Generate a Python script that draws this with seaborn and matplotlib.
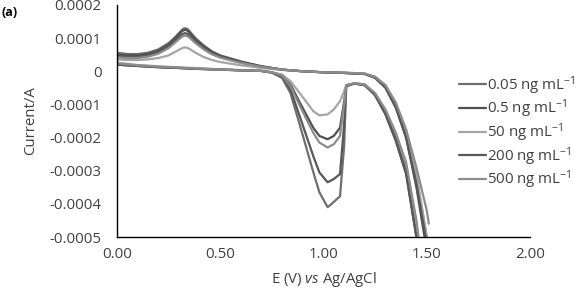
import matplotlib
matplotlib.use("Agg")
import matplotlib.pyplot as plt
import seaborn as sns
import pandas as pd
from matplotlib.ticker import FixedLocator, FixedFormatter

# ---------------- data (currents in units of 1e-4 A) ----------------
series_labels = ["0.05 ng mL$^{-1}$", "0.5 ng mL$^{-1}$", "50 ng mL$^{-1}$",
                 "200 ng mL$^{-1}$", "500 ng mL$^{-1}$"]
series_colors = ["#6e6e6e", "#505050", "#a5a5a5", "#575757", "#8c8c8c"]

# upper (anodic-peak) branch, scanned from high E down to 0
E_upper = [1.51, 1.50, 1.45, 1.40, 1.35, 1.30, 1.25, 1.20, 1.10, 1.00, 0.90, 0.80,
           0.70, 0.60, 0.50, 0.46, 0.42, 0.38, 0.35, 0.34, 0.33, 0.32, 0.31, 0.28,
           0.25, 0.20, 0.15, 0.10, 0.05, 0.00]
I_upper_005 = [-5.6, -5.0, -3.2, -1.9, -1.0, -0.45, -0.18, -0.08, -0.05, -0.03, 0.0, 0.05,
               0.15, 0.30, 0.48, 0.60, 0.78, 1.00, 1.22, 1.28, 1.30, 1.28, 1.22, 1.02,
               0.85, 0.66, 0.56, 0.52, 0.52, 0.56]
I_upper_05 = [-6.3, -5.4, -3.5, -2.0, -1.1, -0.50, -0.20, -0.08, -0.05, -0.03, 0.0, 0.05,
              0.15, 0.28, 0.46, 0.58, 0.75, 0.96, 1.17, 1.23, 1.25, 1.23, 1.18, 0.98,
              0.80, 0.62, 0.52, 0.48, 0.48, 0.50]
I_upper_50 = [-5.5, -5.0, -3.1, -1.8, -0.95, -0.42, -0.16, -0.07, -0.04, -0.03, 0.0, 0.04,
              0.10, 0.18, 0.28, 0.34, 0.43, 0.56, 0.68, 0.71, 0.72, 0.71, 0.68, 0.58,
              0.48, 0.40, 0.36, 0.34, 0.34, 0.36]
I_upper_200 = [-6.2, -5.2, -3.4, -2.0, -1.05, -0.48, -0.19, -0.08, -0.05, -0.03, 0.0, 0.05,
               0.14, 0.27, 0.44, 0.55, 0.70, 0.90, 1.08, 1.13, 1.15, 1.13, 1.09, 0.92,
               0.75, 0.57, 0.48, 0.44, 0.44, 0.46]
I_upper_500 = [-4.6, -4.2, -2.9, -1.75, -0.95, -0.42, -0.17, -0.07, -0.04, -0.03, 0.0, 0.05,
               0.13, 0.25, 0.41, 0.51, 0.66, 0.85, 1.02, 1.06, 1.08, 1.06, 1.02, 0.86,
               0.70, 0.53, 0.44, 0.40, 0.40, 0.42]

# lower branch, scanned from 0 upwards
E_lower = [0.00, 0.10, 0.20, 0.30, 0.40, 0.50, 0.60, 0.70]
I_lower_005 = [0.22, 0.17, 0.13, 0.10, 0.08, 0.05, 0.03, 0.01]
I_lower_05 = [0.20, 0.16, 0.13, 0.10, 0.07, 0.05, 0.03, 0.01]
I_lower_50 = [0.26, 0.19, 0.15, 0.12, 0.09, 0.06, 0.04, 0.02]
I_lower_200 = [0.20, 0.16, 0.12, 0.10, 0.07, 0.05, 0.03, 0.01]
I_lower_500 = [0.24, 0.18, 0.14, 0.11, 0.08, 0.05, 0.03, 0.01]

# cathodic peak region
E_dip = [0.75, 0.80, 0.84, 0.89, 0.95, 0.98, 1.02, 1.05, 1.08, 1.10, 1.11]
I_dip_005 = [-0.04, -0.20, -0.66, -1.72, -3.03, -3.65, -4.10, -3.94, -3.77, -2.25, -0.45]
I_dip_05 = [-0.03, -0.12, -0.40, -1.00, -1.70, -1.95, -2.05, -1.95, -1.70, -0.90, -0.42]
I_dip_50 = [-0.03, -0.10, -0.30, -0.70, -1.20, -1.33, -1.30, -1.15, -0.90, -0.60, -0.42]
I_dip_200 = [-0.04, -0.17, -0.55, -1.45, -2.55, -3.05, -3.35, -3.25, -3.10, -1.60, -0.45]
I_dip_500 = [-0.03, -0.13, -0.45, -1.10, -1.85, -2.15, -2.30, -2.20, -1.95, -1.00, -0.42]

# return towards the anodic limit
E_ret = [1.15, 1.20, 1.25, 1.30, 1.35, 1.40, 1.45, 1.50]
I_ret_005 = [-0.36, -0.40, -0.70, -1.25, -2.00, -3.00, -4.90, -7.50]
I_ret_05 = [-0.37, -0.42, -0.72, -1.30, -2.10, -3.10, -5.00, -7.60]
I_ret_50 = [-0.36, -0.40, -0.68, -1.20, -1.90, -2.85, -4.60, -7.20]
I_ret_200 = [-0.37, -0.42, -0.72, -1.28, -2.05, -3.05, -5.00, -7.60]
I_ret_500 = [-0.36, -0.40, -0.66, -1.15, -1.85, -2.75, -4.50, -7.00]

upper = [I_upper_005, I_upper_05, I_upper_50, I_upper_200, I_upper_500]
lower = [I_lower_005, I_lower_05, I_lower_50, I_lower_200, I_lower_500]
dip = [I_dip_005, I_dip_05, I_dip_50, I_dip_200, I_dip_500]
ret = [I_ret_005, I_ret_05, I_ret_50, I_ret_200, I_ret_500]

y_ticks = [0.0002, 0.0001, 0, -0.0001, -0.0002, -0.0003, -0.0004, -0.0005]
y_tick_labels = ["0.0002", "0.0001", "0", "-0.0001", "-0.0002", "-0.0003", "-0.0004", "-0.0005"]
x_ticks = [0.0, 0.5, 1.0, 1.5, 2.0]
x_tick_labels = ["0.00", "0.50", "1.00", "1.50", "2.00"]

# ---------------- build long-form table ----------------
E_path = E_upper + E_lower + E_dip + E_ret
rows = []
for k, lab in enumerate(series_labels):
    I_path = upper[k] + lower[k] + dip[k] + ret[k]
    for j, (e, i) in enumerate(zip(E_path, I_path)):
        rows.append({"E": e, "I": i * 1e-4, "series": lab, "order": j})
df = pd.DataFrame(rows)

# ---------------- plot ----------------
sns.set_theme(style="white")
plt.rcParams["font.family"] = ["Open Sans", "DejaVu Sans"]
plt.rcParams["mathtext.fontset"] = "custom"
plt.rcParams["mathtext.rm"] = "Open Sans"
plt.rcParams["mathtext.it"] = "Open Sans:italic"
plt.rcParams["mathtext.bf"] = "Open Sans:bold"

fig = plt.figure(figsize=(5.83, 2.94), dpi=100)
ax = fig.add_axes([117 / 583, 1 - 237 / 294, (530 - 117) / 583, (237 - 5) / 294])

sns.lineplot(data=df, x="E", y="I", hue="series", hue_order=series_labels,
             palette=dict(zip(series_labels, series_colors)), sort=False,
             estimator=None, linewidth=1.6, ax=ax, legend=True)

ax.set_xlim(0, 2.0)
ax.set_ylim(-0.0005, 0.0002)
ax.yaxis.set_major_locator(FixedLocator(y_ticks))
ax.yaxis.set_major_formatter(FixedFormatter(y_tick_labels))
ax.xaxis.set_major_locator(FixedLocator(x_ticks))
ax.xaxis.set_major_formatter(FixedFormatter(x_tick_labels))
ax.tick_params(axis="both", length=0, labelsize=10.8, colors="#404040")
ax.tick_params(axis="y", pad=11)
ax.tick_params(axis="x", pad=7)

for s in ["top", "right"]:
    ax.spines[s].set_visible(False)
for s in ["left", "bottom"]:
    ax.spines[s].set_color("black")
    ax.spines[s].set_linewidth(1.0)

ax.set_ylabel("Current/A", fontsize=10.8, color="#404040", labelpad=8)
ax.set_xlabel(r"E (V) $\it{vs}$ Ag/AgCl", fontsize=10.8, color="#404040", labelpad=6)

handles, labels = ax.get_legend_handles_labels()
ax.legend(handles, labels, loc="upper left", bbox_to_anchor=(459 / 583, 1 - 74 / 294),
          bbox_transform=fig.transFigure, frameon=False, fontsize=10.8,
          handlelength=1.8, handletextpad=0.05, labelspacing=0.07, borderpad=0,
          borderaxespad=0, labelcolor="#404040")

fig.text(2 / 583, 1 - 12 / 294, "(a)", fontsize=9, fontweight="bold",
         color="black", ha="left", va="center")

fig.savefig("out.png", dpi=100)
